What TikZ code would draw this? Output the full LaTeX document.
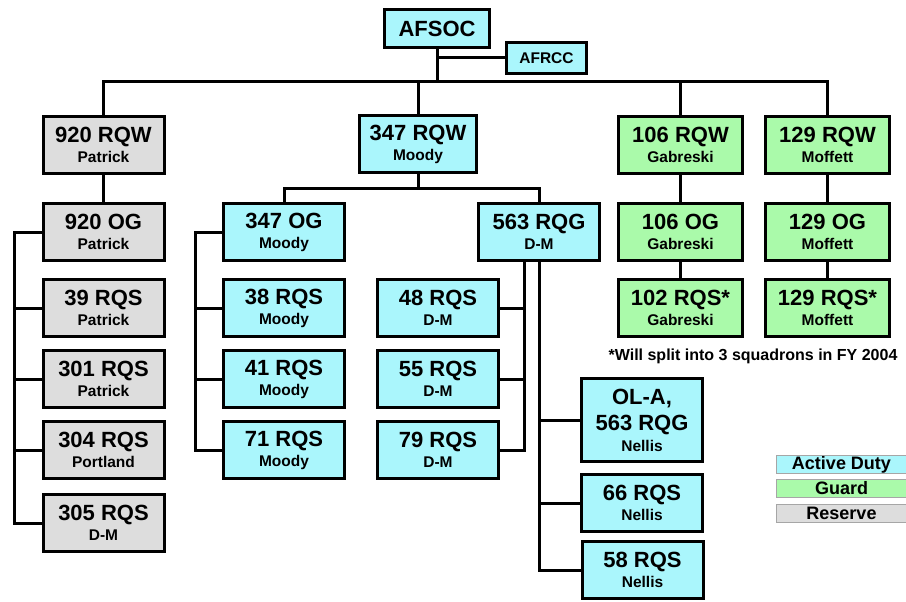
\documentclass[tikz,border=0pt]{standalone}
\usepackage{fontspec}
\setmainfont{Liberation Sans}
\usetikzlibrary{positioning,calc}
\definecolor{activecyan}{RGB}{170,246,252}
\definecolor{guardgreen}{RGB}{170,250,170}
\definecolor{reservegray}{RGB}{221,221,221}
\newcommand{\unitfont}{\fontsize{22}{20}\selectfont\bfseries}
\newcommand{\basefont}{\fontsize{15.5}{20}\selectfont\bfseries}

\begin{document}
\begin{tikzpicture}[x=1pt, y=-1pt,
    unit/.style={draw, rectangle, line width=3pt, minimum width=121pt, minimum height=57pt, inner sep=0pt, align=center, font=\unitfont},
    active/.style={unit, fill=activecyan},
    guard/.style={unit, fill=guardgreen, minimum width=124pt},
    reserve/.style={unit, fill=reservegray},
    link/.style={line width=3pt},
    key/.style={draw=gray!70, line width=1pt, rectangle, minimum width=130pt, minimum height=18pt, inner sep=0pt, font=\fontsize{18}{18}\selectfont\bfseries},
    note/.style={font=\fontsize{16}{18}\selectfont\bfseries},
]
\useasboundingbox (0,0) rectangle (906,602);

% Command
\node[active, minimum width=105pt, minimum height=38pt] (afsoc) at (437,28.5) {AFSOC};
\node[active, minimum width=80pt, minimum height=31pt, font=\fontsize{15.5}{18}\selectfont\bfseries] (afrcc) at (546.5,58) {AFRCC};

% Reserve
\node[reserve] (rqw920) at (103.5,145) {920 RQW\\\basefont Patrick};
\node[reserve] (og920) at (103.5,232) {920 OG\\\basefont Patrick};
\node[reserve] (rqs39) at (103.5,308) {39 RQS\\\basefont Patrick};
\node[reserve] (rqs301) at (103.5,379) {301 RQS\\\basefont Patrick};
\node[reserve] (rqs304) at (103.5,450) {304 RQS\\\basefont Portland};
\node[reserve] (rqs305) at (103.5,523) {305 RQS\\\basefont D-M};

% Active duty
\node[active, minimum width=117pt] (rqw347) at (418,144) {347 RQW\\\basefont Moody};
\node[active] (og347) at (284,232) {347 OG\\\basefont Moody};
\node[active] (rqs38) at (284,308) {38 RQS\\\basefont Moody};
\node[active] (rqs41) at (284,379) {41 RQS\\\basefont Moody};
\node[active] (rqs71) at (284,450) {71 RQS\\\basefont Moody};
\node[active] (rqg563) at (539,232) {563 RQG\\\basefont D-M};
\node[active] (rqs48) at (438,308) {48 RQS\\\basefont D-M};
\node[active] (rqs55) at (438,379) {55 RQS\\\basefont D-M};
\node[active] (rqs79) at (438,450) {79 RQS\\\basefont D-M};
\node[active, minimum height=83pt, font=\fontsize{22}{26}\selectfont\bfseries] (ola) at (642,420) {OL-A,\\563 RQG\\[-5pt]\basefont Nellis};
\node[active] (rqs66) at (642,503) {66 RQS\\\basefont Nellis};
\node[active] (rqs58) at (642.5,570) {58 RQS\\\basefont Nellis};

% Guard
\node[guard] (rqw106) at (680.5,145) {106 RQW\\\basefont Gabreski};
\node[guard] (og106) at (680.5,232) {106 OG\\\basefont Gabreski};
\node[guard] (rqs102) at (680.5,308) {102 RQS*\\\basefont Gabreski};
\node[guard] (rqw129) at (827.5,145) {129 RQW\\\basefont Moffett};
\node[guard] (og129) at (827.5,232) {129 OG\\\basefont Moffett};
\node[guard] (rqs129) at (827.5,308) {129 RQS*\\\basefont Moffett};

\node[note] (split) at (753,356) {*Will split into 3 squadrons in FY 2004};

% Legend
\node[key, fill=activecyan] (keyactive) at (841.5,464.5) {Active Duty};
\node[key, fill=guardgreen] (keyguard) at (841.5,488.5) {Guard};
\node[key, fill=reservegray] (keyreserve) at (841.5,513) {Reserve};

% Connectors
\coordinate (topbar) at (437,82);
\coordinate (bar347) at (418,188);
\coordinate (rail920) at (14,0);
\coordinate (rail347) at (195,0);
\coordinate (rail563) at (524,0);

\draw[link] (rqw920.north) |- (topbar) -| (rqw129.north);
\draw[link] (afsoc.south) -- (afsoc.south |- topbar);
\draw[link] (afrcc.west) -- (afrcc.west -| afsoc.south);
\draw[link] (rqw347.north) -- (rqw347.north |- topbar);
\draw[link] (rqw106.north) -- (rqw106.north |- topbar);

\draw[link] (rqw920) -- (og920);
\draw[link] (rqw106) -- (og106);
\draw[link] (og106) -- (rqs102);
\draw[link] (rqw129) -- (og129);
\draw[link] (og129) -- (rqs129);

\draw[link] (rqw347.south) -- (rqw347.south |- bar347);
\draw[link] (og347.north) |- (bar347) -| (rqg563.north);

\draw[link] (og920.west) -| (rail920 |- rqs305.west) -- (rqs305.west);
\foreach \n in {rqs39,rqs301,rqs304}
  \draw[link] (rail920 |- \n.west) -- (\n.west);

\draw[link] (og347.west) -| (rail347 |- rqs71.west) -- (rqs71.west);
\foreach \n in {rqs38,rqs41}
  \draw[link] (rail347 |- \n.west) -- (\n.west);

\draw[link] (rqg563.south -| rail563) |- (rqs79.east);
\foreach \n in {rqs48,rqs55}
  \draw[link] (rail563 |- \n.east) -- (\n.east);

\draw[link] (rqg563.south) |- (rqs58.west);
\foreach \n in {ola,rqs66}
  \draw[link] (rqg563.south |- \n.west) -- (\n.west);

\end{tikzpicture}
\end{document}
